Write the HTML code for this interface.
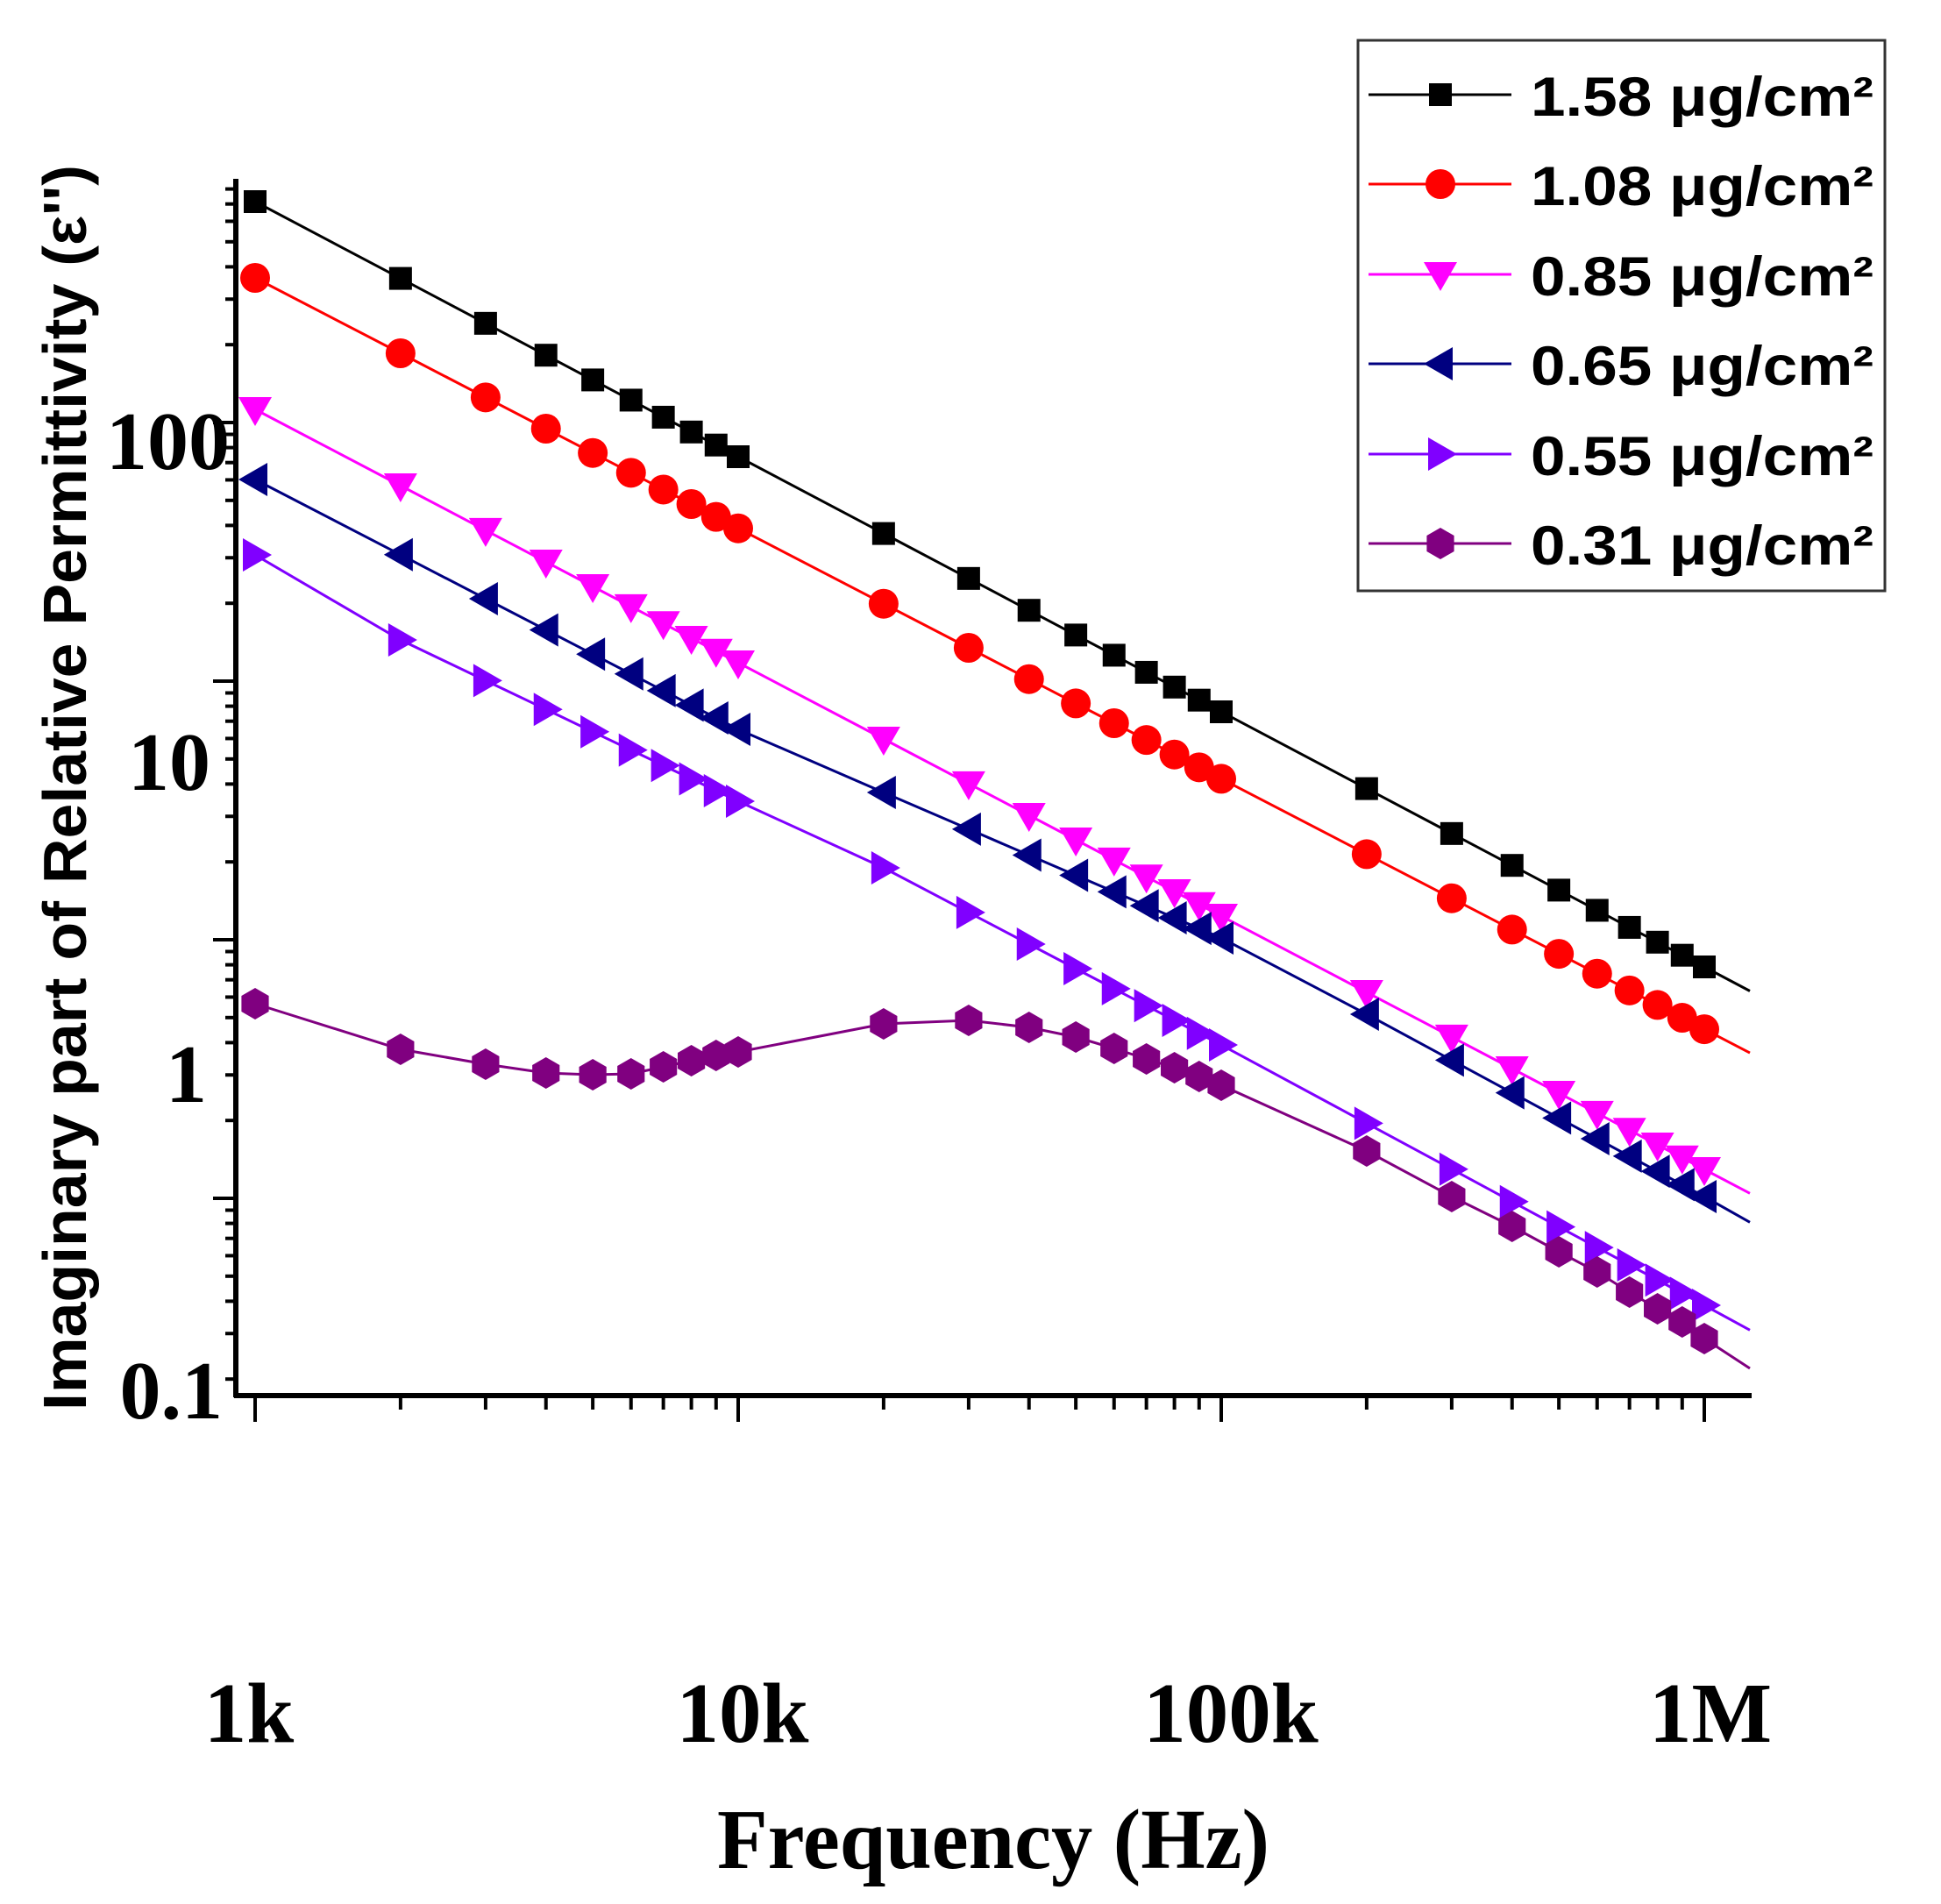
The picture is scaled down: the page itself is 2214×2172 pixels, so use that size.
<!DOCTYPE html>
<html><head><meta charset="utf-8">
<style>
html,body{margin:0;padding:0;background:#fff;}
svg{display:block;}
</style></head>
<body>
<svg id="s" width="2214" height="2172" viewBox="0 0 2214 2172" xmlns="http://www.w3.org/2000/svg">
<rect width="2214" height="2172" fill="#fff"/>
<g id="ticks" stroke="#000" stroke-width="4"></g>
<line x1="269" y1="204" x2="269" y2="1594" stroke="#000" stroke-width="6"/>
<line x1="267" y1="1592" x2="1998" y2="1592" stroke="#000" stroke-width="6"/>
<g id="series"></g>
<g font-family="Liberation Serif, serif" font-weight="bold" font-size="94" fill="#000">
<text x="262" y="535" text-anchor="end">100</text>
<text x="240" y="901" text-anchor="end">10</text>
<text x="236" y="1257" text-anchor="end">1</text>
<text x="254" y="1618" text-anchor="end">0.1</text>
</g>
<g font-family="Liberation Serif, serif" font-weight="bold" font-size="97" fill="#000">
<text x="284" y="1987" text-anchor="middle">1k</text>
<text x="847" y="1987" text-anchor="middle">10k</text>
<text x="1404" y="1987" text-anchor="middle">100k</text>
<text x="1951" y="1987" text-anchor="middle">1M</text>
<text x="818" y="2131" font-size="98" textLength="630" lengthAdjust="spacingAndGlyphs">Frequency (Hz)</text>
</g>
<text transform="translate(98,1609) rotate(-90)" font-family="Liberation Sans, sans-serif" font-weight="bold" font-size="70" textLength="1421" lengthAdjust="spacingAndGlyphs" fill="#000">Imaginary part of Relative Permittivity (ε'')</text>
<rect x="1549" y="46" width="601" height="628" fill="#fff" stroke="#333" stroke-width="3"/>
<g id="leg"></g>
<g font-family="Liberation Sans, sans-serif" font-weight="bold" font-size="63" fill="#000">
<text x="1746" y="132" textLength="391" lengthAdjust="spacingAndGlyphs">1.58 μg/cm²</text>
<text x="1746" y="234" textLength="391" lengthAdjust="spacingAndGlyphs">1.08 μg/cm²</text>
<text x="1746" y="337" textLength="391" lengthAdjust="spacingAndGlyphs">0.85 μg/cm²</text>
<text x="1746" y="439" textLength="391" lengthAdjust="spacingAndGlyphs">0.65 μg/cm²</text>
<text x="1746" y="542" textLength="391" lengthAdjust="spacingAndGlyphs">0.55 μg/cm²</text>
<text x="1746" y="644" textLength="391" lengthAdjust="spacingAndGlyphs">0.31 μg/cm²</text>
</g>
</svg>
<script>
(function(){
var NS="http://www.w3.org/2000/svg";
function el(t,a,p){var e=document.createElementNS(NS,t);for(var k in a)e.setAttribute(k,a[k]);p.appendChild(e);return e;}
var ticks=document.getElementById('ticks');
var majors=[482,777,1072,1367];
majors.forEach(function(m){el('line',{x1:243,y1:m,x2:269,y2:m},ticks);});
[187,482,777,1072,1367].forEach(function(m){
 for(var k=2;k<=9;k++){var y=m+295*(1-Math.log10(k));
  if(y>205&&y<1590) el('line',{x1:257,y1:y,x2:269,y2:y},ticks);}
});
function X(f){return 291+551*Math.log10(f/1000);}
[1e3,1e4,1e5,1e6].forEach(function(f){var x=X(f);el('line',{x1:x,y1:1592,x2:x,y2:1622},ticks);});
[1e3,1e4,1e5].forEach(function(d){for(var k=2;k<=9;k++){var x=X(d*k);el('line',{x1:x,y1:1592,x2:x,y2:1608},ticks);}});
var freqs=[];
[1e3,1e4,1e5].forEach(function(d){for(var k=1;k<=9;k++)freqs.push(d*k);});
freqs.push(1e6);
function lin(a,b){return function(f){return a+b*Math.log10(f/1000);};}
function interp(anchors){return function(f){var d=Math.log10(f/1000);
 for(var i=0;i<anchors.length-1;i++){var a=anchors[i],b=anchors[i+1];
  if(d<=b[0]||i==anchors.length-2){return a[1]+(b[1]-a[1])*(d-a[0])/(b[0]-a[0]);}}};}
var purpleVals=[1145,1197,1214,1224,1226,1225,1217,1210,1204,1200,1168,1164,1172,1183,1196,1208,1218,1228,1238,1313,1365,1399,1428,1451,1474,1493,1508,1527];
var series=[
 {c:'#000000',m:'sq',y:lin(230,291)},
 {c:'#ff0000',m:'ci',y:lin(317,285.7)},
 {c:'#ff00ff',m:'td',y:lin(467,289)},
 {c:'#000080',m:'tl',y:interp([[0,547],[1,832],[1.301,904],[2,1070],[2.301,1157],[3,1365],[3.1,1396]])},
 {c:'#8000ff',m:'tr',y:interp([[0,633],[0.301,730],[1,914],[1.301,990],[2,1192],[3,1489],[3.1,1519]])},
 {c:'#800080',m:'hx',vals:purpleVals,end:1561}
];
var g=document.getElementById('series'), leg=document.getElementById('leg');
function marker(type,x,y,c,p){
 if(type=='sq') el('rect',{x:x-13,y:y-13,width:26,height:26,fill:c},p);
 else if(type=='ci') el('circle',{cx:x,cy:y,r:17,fill:c},p);
 else if(type=='td') el('polygon',{points:(x-19)+','+(y-14)+' '+(x+19)+','+(y-14)+' '+x+','+(y+19),fill:c},p);
 else if(type=='tl') el('polygon',{points:(x-19)+','+y+' '+(x+14)+','+(y-19)+' '+(x+14)+','+(y+19),fill:c},p);
 else if(type=='tr') el('polygon',{points:(x+19)+','+y+' '+(x-14)+','+(y-19)+' '+(x-14)+','+(y+19),fill:c},p);
 else { var pts=[];for(var i=0;i<6;i++){var a=Math.PI/6+i*Math.PI/3;pts.push((x+18*Math.cos(a))+','+(y+18*Math.sin(a)));}
  el('polygon',{points:pts.join(' '),fill:c},p);}
}
series.forEach(function(s,si){
 var pts=freqs.map(function(f,i){return [X(f), s.vals?s.vals[i]:s.y(f)];});
 var endY = s.vals? s.end : s.y(Math.pow(10,3+ (1996-291)/551));
 var all=pts.concat([[1996,endY]]);
 el('polyline',{points:all.map(function(p){return p[0].toFixed(1)+','+p[1].toFixed(1);}).join(' '),fill:'none',stroke:s.c,'stroke-width':3},g);
 pts.forEach(function(p){marker(s.m,p[0],p[1],s.c,g);});
 var ly=[108,210,313,415,518,620][si];
 el('line',{x1:1561,y1:ly,x2:1724,y2:ly,stroke:s.c,'stroke-width':3},leg);
 marker(s.m,1643,ly,s.c,leg);
});
})();
</script>
</body></html>
